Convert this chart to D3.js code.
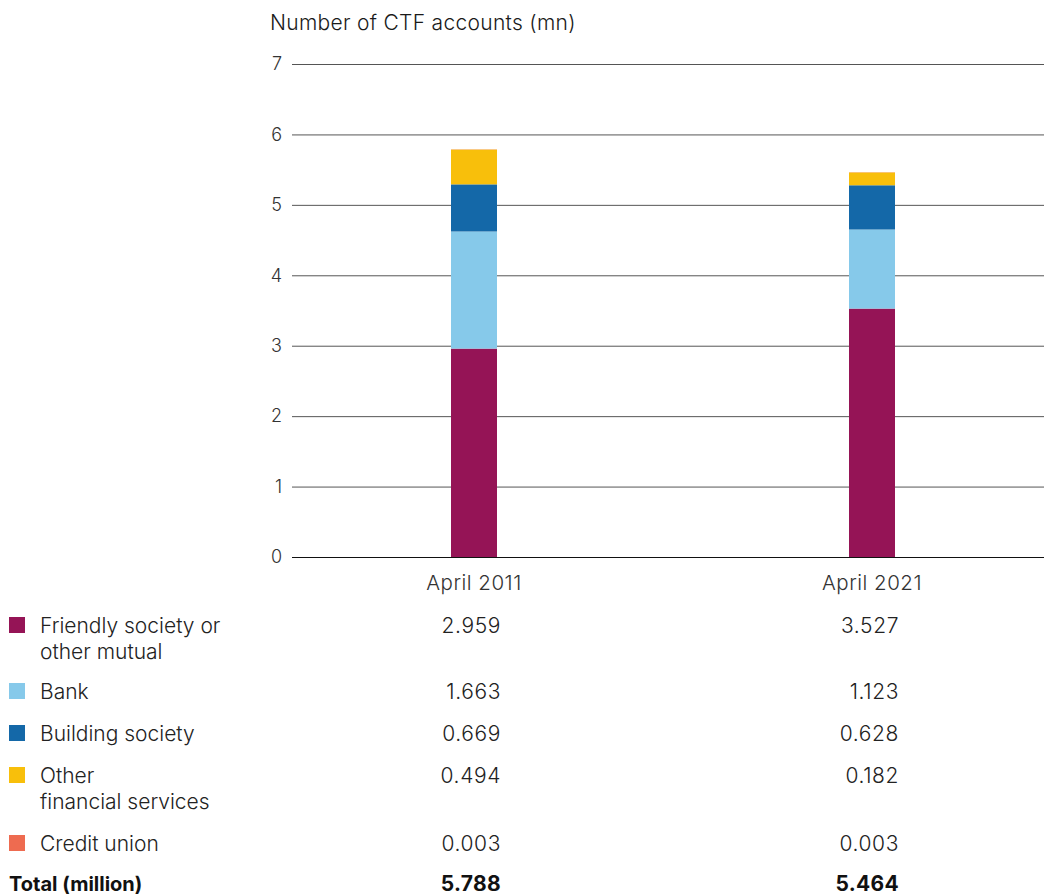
<!DOCTYPE html>
<html>
<head>
<meta charset="utf-8">
<script src="https://cdn.jsdelivr.net/npm/d3@7"></script>
<style>
  html, body { margin: 0; padding: 0; background: #fff; }
  svg { display: block; font-family: "Inter", "Liberation Sans", sans-serif; font-weight: 300; }
</style>
</head>
<body>
<svg id="chart" width="1044" height="895"></svg>
<script>
// Child Trust Fund accounts by provider type (millions)
const periods = ["April 2011", "April 2021"];
const providers = ["Friendly society or other mutual", "Bank", "Building society", "Other financial services", "Credit union"];
const legendLines = [["Friendly society or", "other mutual"], ["Bank"], ["Building society"], ["Other", "financial services"], ["Credit union"]];
const colors = ["#951456", "#86c9ea", "#1468a8", "#f8bf0b", "#ee6b50"];
const values2011 = [2.959, 1.663, 0.669, 0.494, 0.003];
const values2021 = [3.527, 1.123, 0.628, 0.182, 0.003];
const totals = [5.788, 5.464];
const yTicks = [0, 1, 2, 3, 4, 5, 6, 7];

const seriesValues = [values2011, values2021];
const rows = periods.map((p, i) => {
  const r = { period: p };
  providers.forEach((k, j) => r[k] = seriesValues[i][j]);
  return r;
});

const svg = d3.select("#chart");

const x = d3.scaleBand()
  .domain(periods)
  .range([275, 1071])
  .paddingInner(1 - 46 / 398)
  .paddingOuter((1 - 46 / 398) / 2);

const y = d3.scaleLinear().domain([0, 7]).range([557, 64]);

// Axis title
svg.append("text")
  .attr("x", 270).attr("y", 30)
  .attr("font-size", 21).attr("letter-spacing", 0.3).attr("fill", "#1a1a1a")
  .text("Number of CTF accounts (mn)");

// Gridlines and tick labels
const yAxis = svg.append("g").attr("transform", "translate(292,0)")
  .call(d3.axisLeft(y).tickValues(yTicks).tickSize(-752).tickFormat(d3.format("d")).tickPadding(10));
yAxis.select(".domain").remove();
yAxis.selectAll(".tick line")
  .attr("stroke", d => d === 0 ? "#111" : "#555")
  .attr("stroke-width", 1);
yAxis.selectAll(".tick text")
  .attr("font-size", 18).attr("fill", "#333")
  .attr("font-family", "Inter, 'Liberation Sans', sans-serif");

// Stacked bars
const stack = d3.stack().keys(providers)(rows);
svg.append("g").selectAll("g")
  .data(stack)
  .join("g")
  .attr("fill", (d, i) => colors[i])
  .selectAll("rect")
  .data(d => d)
  .join("rect")
  .attr("x", d => x(d.data.period))
  .attr("width", x.bandwidth())
  .attr("y", d => y(d[1]))
  .attr("height", d => y(d[0]) - y(d[1]));

// Category labels
svg.append("g").selectAll("text")
  .data(periods)
  .join("text")
  .attr("x", d => x(d) + x.bandwidth() / 2)
  .attr("y", 590)
  .attr("text-anchor", "middle")
  .attr("font-size", 20.5).attr("letter-spacing", 0.5).attr("fill", "#333")
  .text(d => d);

// Table with legend swatches and values
const rowY = [633, 699, 741, 783, 851];
const valueRight = periods.map(p => x(p) + x.bandwidth() / 2 + 27);

const legend = svg.append("g");
providers.forEach((k, i) => {
  legend.append("rect")
    .attr("x", 9).attr("y", rowY[i] - 16)
    .attr("width", 16).attr("height", 16)
    .attr("fill", colors[i]);
  const t = legend.append("text")
    .attr("x", 40).attr("y", rowY[i])
    .attr("font-size", 21).attr("fill", "#222");
  legendLines[i].forEach((line, j) => {
    t.append("tspan").attr("x", 40).attr("dy", j === 0 ? 0 : 26).text(line);
  });
  seriesValues.forEach((vals, c) => {
    legend.append("text")
      .attr("x", valueRight[c]).attr("y", rowY[i])
      .attr("text-anchor", "end")
      .attr("font-size", 21).attr("letter-spacing", 0.6).attr("fill", "#222")
      .text(d3.format(".3f")(vals[i]));
  });
});

// Totals row
svg.append("text")
  .attr("x", 9).attr("y", 891)
  .attr("font-size", 20).attr("font-weight", 700).attr("fill", "#111")
  .text("Total (million)");
totals.forEach((t, c) => {
  svg.append("text")
    .attr("x", valueRight[c]).attr("y", 891)
    .attr("text-anchor", "end")
    .attr("font-size", 21).attr("font-weight", 700).attr("letter-spacing", 0.3).attr("fill", "#111")
    .text(d3.format(".3f")(t));
});
</script>
</body>
</html>
